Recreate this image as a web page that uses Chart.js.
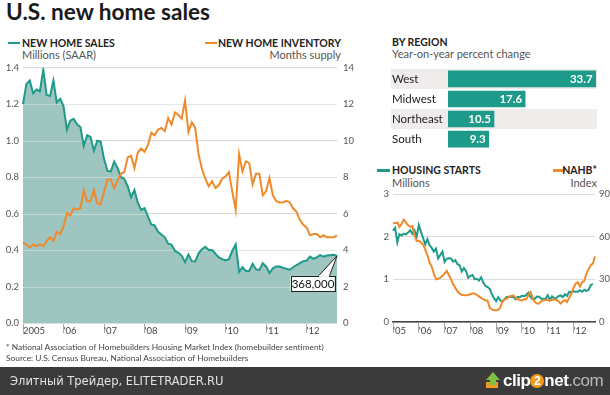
<!DOCTYPE html>
<html>
<head>
<meta charset="utf-8">
<script src="https://cdn.jsdelivr.net/npm/chart.js@4.4.1/dist/chart.umd.min.js"></script>
<style>
  body { margin: 0; width: 610px; height: 395px; position: relative; overflow: hidden; background: #fff; font-family: Lato, sans-serif; color: #222; }
  .t { position: absolute; white-space: nowrap; line-height: 1; }
  .title { left: 6px; top: 1px; font-size: 22.6px; font-weight: 700; color: #1a1a1a; }
  .head { font-size: 10.5px; font-weight: 700; color: #222; }
  .sub { font-size: 11px; color: #555; }
  .dash { position: absolute; height: 2.5px; }
  .note { font-size: 8.35px; color: #444; left: 6px; }
  canvas { position: absolute; }
  .footer { position: absolute; left: 0; top: 367px; width: 610px; height: 28px; background: #3b3b3b; }
  .footer .ft { position: absolute; left: 10px; top: 7px; font-family: "DejaVu Sans", sans-serif; font-size: 11.5px; color: #e2e2e2; white-space: nowrap; }
  .logo { position: absolute; left: 485px; top: 4px; font-family: "Liberation Sans", Arial, sans-serif; font-weight: 700; font-size: 17px; letter-spacing: -0.5px; white-space: nowrap; color: #fff; }
  .logo svg { vertical-align: -3px; margin-right: 2px; }
  .logo .two { display: inline-block; width: 14px; height: 14px; line-height: 14px; border-radius: 7px; background: #f39a1e; color: #fff; text-align: center; font-size: 12px; vertical-align: 1px; letter-spacing: 0; }
  .logo .com { color: #b9b9b9; font-weight: 400; }
</style>
</head>
<body>
<div class="t title">U.S. new home sales</div>

<div class="dash" style="left:8px;top:41.5px;width:12px;background:#1d9a89"></div>
<div class="t head" style="left:22px;top:38px">NEW HOME SALES</div>
<div class="t sub" style="left:22px;top:49px">Millions (SAAR)</div>
<div class="dash" style="left:205px;top:41.5px;width:12px;background:#ef8a2c"></div>
<div class="t head" style="right:269px;top:38px">NEW HOME INVENTORY</div>
<div class="t sub" style="right:269px;top:49px">Months supply</div>

<div class="t head" style="left:392px;top:37px">BY REGION</div>
<div class="t sub" style="left:392px;top:48px">Year-on-year percent change</div>

<div class="dash" style="left:377px;top:169px;width:13px;background:#1d9a89"></div>
<div class="t head" style="left:392px;top:165px">HOUSING STARTS</div>
<div class="t sub" style="left:392px;top:177px">Millions</div>
<div class="dash" style="left:553px;top:169px;width:12px;background:#ef8a2c"></div>
<div class="t head" style="right:13px;top:165px">NAHB*</div>
<div class="t sub" style="right:13px;top:177px">Index</div>

<canvas id="mainChart" width="360" height="290" style="left:0;top:56px"></canvas>
<canvas id="regionChart" width="212" height="94" style="left:388px;top:62px"></canvas>
<canvas id="startsChart" width="250" height="161" style="left:360px;top:180px"></canvas>

<div class="t note" style="top:343px">* National Association of Homebuilders Housing Market Index (homebuilder sentiment)</div>
<div class="t note" style="top:354px">Source: U.S. Census Bureau, National Association of Homebuilders</div>

<div class="footer">
  <div class="ft">Элитный Трейдер, ELITETRADER.RU</div>
  <div class="logo"><svg width="16" height="18" viewBox="0 0 16 18"><rect x="1" y="11" width="12" height="6" fill="#f39a1e"/><polygon points="8,1 15,9 11,9 11,14 5,14 5,9 1,9" fill="#7dc242"/></svg>clip<span class="two">2</span>net<span class="com">.com</span></div>
</div>

<script>
// months Jan 2005 .. Oct 2012 (main), .. Nov 2012 (starts/NAHB)
const years = [2005, 2006, 2007, 2008, 2009, 2010, 2011, 2012];
const monthNames = ['Jan', 'Feb', 'Mar', 'Apr', 'May', 'Jun', 'Jul', 'Aug', 'Sep', 'Oct', 'Nov', 'Dec'];
const mainYearTicks = ['2005', "'06", "'07", "'08", "'09", "'10", "'11", "'12"];
const smallYearTicks = ["'05", "'06", "'07", "'08", "'09", "'10", "'11", "'12"];

// new home sales, millions SAAR
const sales = [
  1.20, 1.31, 1.33, 1.26, 1.28, 1.27, 1.39, 1.25, 1.245, 1.33, 1.21, 1.23,
  1.19, 1.06, 1.11, 1.12, 1.09, 1.075, 0.97, 1.03, 1.02, 0.945, 1.00, 0.995,
  0.90, 0.835, 0.83, 0.885, 0.85, 0.80, 0.79, 0.75, 0.69, 0.73, 0.66, 0.62,
  0.63, 0.585, 0.54, 0.535, 0.50, 0.485, 0.47, 0.435, 0.43, 0.395, 0.385, 0.37,
  0.333, 0.375, 0.339, 0.337, 0.382, 0.405, 0.418, 0.40, 0.40, 0.38, 0.36, 0.35,
  0.343, 0.35, 0.396, 0.43, 0.28, 0.306, 0.285, 0.285, 0.324, 0.295, 0.29, 0.328,
  0.31, 0.274, 0.30, 0.31, 0.31, 0.303, 0.297, 0.292, 0.306, 0.318, 0.328, 0.339,
  0.342, 0.364, 0.352, 0.36, 0.372, 0.364, 0.37, 0.372, 0.374, 0.368
];

// new home inventory, months supply
const inventory = [
  4.4, 4.31, 4.13, 4.31, 4.22, 4.31, 4.22, 4.49, 4.70, 4.49, 4.99, 4.88,
  5.30, 6.02, 5.89, 6.29, 6.23, 6.29, 7.28, 6.68, 6.68, 7.28, 6.56, 6.50,
  7.19, 7.87, 7.87, 7.40, 7.82, 8.18, 8.27, 9.08, 9.17, 8.49, 9.35, 9.57,
  9.39, 9.75, 10.43, 10.29, 10.61, 10.70, 10.52, 11.24, 10.88, 11.55, 11.42, 11.2,
  12.2, 10.47, 11.0, 10.7, 9.26, 8.45, 7.91, 7.5, 7.78, 7.41, 7.55, 7.91,
  8.04, 8.27, 7.19, 6.2, 9.26, 8.31, 8.86, 8.77, 7.6, 8.18, 8.18, 7.0,
  7.23, 7.95, 7.0, 6.68, 6.61, 6.61, 6.70, 6.61, 6.29, 6.1, 5.66, 5.39,
  5.24, 4.81, 4.88, 4.88, 4.70, 4.81, 4.70, 4.70, 4.70, 4.81
];

// by region, year-on-year percent change
const regions = ['West', 'Midwest', 'Northeast', 'South'];
const regionChange = [33.7, 17.6, 10.5, 9.3];

// housing starts, millions (no Nov 2012 figure yet)
const housingStarts = [
  2.144, 2.207, 1.864, 2.061, 2.025, 2.068, 2.054, 2.095, 2.151, 2.065, 2.147, 1.994,
  2.273, 2.119, 1.969, 1.821, 1.942, 1.802, 1.737, 1.650, 1.720, 1.491, 1.570, 1.649,
  1.409, 1.480, 1.495, 1.490, 1.415, 1.448, 1.354, 1.330, 1.183, 1.264, 1.197, 1.037,
  1.084, 1.103, 1.005, 1.013, 0.973, 1.046, 0.923, 0.844, 0.820, 0.777, 0.652, 0.560,
  0.490, 0.582, 0.505, 0.478, 0.540, 0.585, 0.594, 0.586, 0.585, 0.534, 0.588, 0.581,
  0.614, 0.604, 0.636, 0.687, 0.583, 0.537, 0.546, 0.599, 0.594, 0.543, 0.545, 0.539,
  0.630, 0.517, 0.600, 0.554, 0.561, 0.608, 0.623, 0.585, 0.650, 0.610, 0.711, 0.694,
  0.720, 0.708, 0.707, 0.743, 0.708, 0.754, 0.728, 0.750, 0.863, 0.894, null
];

// NAHB housing market index
const nahb = [
  69.8, 69.5, 70, 66.8, 69, 72, 70, 68, 67, 67.5, 61, 57,
  57, 56, 54.5, 51, 47, 42, 39, 34, 30, 30.5, 31, 32.5,
  34, 36, 33, 30, 26.5, 24, 21.6, 20, 19.2, 18.8, 18.8, 19,
  19.5, 20, 20, 19, 18, 17, 16, 15.2, 15.2, 10, 8.9, 8.2,
  8.2, 8.5, 10.5, 15, 15.9, 16.5, 17.6, 18.4, 18.75, 17, 16, 15.5,
  15.2, 16, 16, 19, 21, 17, 14, 13, 13, 14.5, 15.2, 15.5,
  15.5, 15, 15.5, 16, 15.5, 14.5, 13, 14.5, 15.5, 14, 17, 20,
  24, 27, 28, 25, 28, 29, 34, 37, 40, 41, 46
];

const monthLabels = [];
years.forEach(y => monthNames.forEach(m => monthLabels.push(m + ' ' + y)));
const mainLabels = monthLabels.slice(0, sales.length);
const startsLabels = monthLabels.slice(0, nahb.length);

const TEAL = '#1d9a89';
const TEAL_FILL = '#9ec5c0';
const ORANGE = '#ef8a2c';
const GRID = '#dcdcdc';
const tickFont = { family: 'Lato', size: 9.5 };

const yearTick = (labels) => (val, idx) => (idx % 12 === 0 ? labels[idx / 12] : '');
const yearTickColor = (color) => (ctx) => (ctx.index % 12 === 0 ? color : 'rgba(0,0,0,0)');

// grid lines show faintly through the sales area (drawn after the fill, before the lines)
const gridOverFill = {
  id: 'gridOverFill',
  beforeDatasetDraw(chart, args) {
    if (args.index !== 1) return;
    const { ctx, chartArea } = chart;
    const y = chart.scales.y;
    ctx.save();
    ctx.strokeStyle = 'rgba(235,240,239,0.45)';
    ctx.lineWidth = 1;
    y.ticks.forEach(t => {
      if (t.value === 0) return;
      const py = Math.round(y.getPixelForValue(t.value)) + 0.5;
      ctx.beginPath();
      ctx.moveTo(chartArea.left, py);
      ctx.lineTo(chartArea.right, py);
      ctx.stroke();
    });
    ctx.restore();
  }
};

// callout box for the latest sales figure
const calloutPlugin = {
  id: 'callout',
  afterDatasetsDraw(chart) {
    const meta = chart.getDatasetMeta(1);
    const pt = meta.data[meta.data.length - 1];
    const ctx = chart.ctx;
    const text = Math.round(sales[sales.length - 1] * 1e6).toLocaleString('en-US');
    const w = 44, h = 15;
    const right = pt.x - 2.5, top = pt.y + 20;
    ctx.save();
    ctx.beginPath();
    ctx.moveTo(right - 16, top + 0.5);
    ctx.lineTo(pt.x, pt.y);
    ctx.lineTo(right - 5, top + 0.5);
    ctx.closePath();
    ctx.fillStyle = '#fff';
    ctx.fill();
    ctx.strokeStyle = '#222';
    ctx.lineWidth = 1;
    ctx.beginPath();
    ctx.moveTo(right - 16, top);
    ctx.lineTo(pt.x, pt.y);
    ctx.lineTo(right - 5, top);
    ctx.stroke();
    ctx.fillRect(right - w, top, w, h);
    ctx.strokeRect(Math.round(right - w) + 0.5, Math.round(top) + 0.5, w, h);
    ctx.fillStyle = '#fff';
    ctx.fillRect(right - 15.5, top - 0.5, 10, 1.5);
    ctx.fillStyle = '#111';
    ctx.font = '11.5px Lato';
    ctx.textAlign = 'center';
    ctx.textBaseline = 'middle';
    ctx.fillText(text, right - w / 2 + 0.5, top + h / 2 + 1);
    ctx.restore();
  }
};

new Chart(document.getElementById('mainChart'), {
  type: 'line',
  data: {
    labels: mainLabels,
    datasets: [
      { data: inventory, yAxisID: 'y2', borderColor: ORANGE, borderWidth: 2, pointRadius: 0, fill: false },
      { data: sales, yAxisID: 'y', borderColor: TEAL, backgroundColor: TEAL_FILL, borderWidth: 2, pointRadius: 0, fill: 'origin' }
    ]
  },
  options: {
    responsive: false,
    animation: false,
    layout: { padding: { top: 9 } },
    plugins: { legend: { display: false }, tooltip: { enabled: false } },
    scales: {
      x: {
        afterFit: s => { s.height = 23; },
        border: { display: false },
        grid: { drawOnChartArea: false, tickLength: 10, tickColor: yearTickColor('#aaa') },
        ticks: { autoSkip: false, maxRotation: 0, align: 'start', padding: -8, color: '#444', font: tickFont, callback: yearTick(mainYearTicks) }
      },
      y: {
        position: 'left', min: 0, max: 1.4,
        afterFit: s => { s.width = 23; },
        border: { display: false },
        grid: { color: GRID, drawTicks: false },
        ticks: { stepSize: 0.2, padding: 4, color: '#555', font: tickFont, callback: v => v.toFixed(1) }
      },
      y2: {
        position: 'right', min: 0, max: 14,
        afterFit: s => { s.width = 23; },
        border: { display: false },
        grid: { display: false, drawTicks: false },
        ticks: { stepSize: 2, padding: 6, color: '#555', font: tickFont }
      }
    }
  },
  plugins: [gridOverFill, calloutPlugin]
});

// alternating row stripes and value labels for the region bars
const regionPlugin = {
  id: 'regionRows',
  beforeDraw(chart) {
    const y = chart.scales.y;
    const half = (y.getPixelForTick(1) - y.getPixelForTick(0)) / 2;
    const ctx = chart.ctx;
    ctx.save();
    ctx.fillStyle = '#efeceb';
    regions.forEach((r, i) => {
      if (i % 2 === 0) {
        const c = y.getPixelForTick(i);
        ctx.fillRect(y.left - 1, c - half, chart.chartArea.right - y.left + 1, half * 2);
      }
    });
    ctx.restore();
  },
  afterDatasetsDraw(chart) {
    const ctx = chart.ctx;
    ctx.save();
    ctx.fillStyle = '#fff';
    ctx.font = 'bold 11.5px Lato';
    ctx.textAlign = 'right';
    ctx.textBaseline = 'middle';
    chart.getDatasetMeta(0).data.forEach((bar, i) => {
      ctx.fillText(regionChange[i].toFixed(1), bar.x - 3, bar.y + 0.5);
    });
    ctx.restore();
  }
};

new Chart(document.getElementById('regionChart'), {
  type: 'bar',
  data: {
    labels: regions,
    datasets: [{ data: regionChange, backgroundColor: TEAL, barThickness: 16 }]
  },
  options: {
    indexAxis: 'y',
    responsive: false,
    animation: false,
    layout: { padding: { top: 3, bottom: 3, right: 3, left: 4 } },
    plugins: { legend: { display: false }, tooltip: { enabled: false } },
    scales: {
      x: { display: false, min: 0, max: 34 },
      y: {
        afterFit: s => { s.width = 56; },
        border: { display: false },
        grid: { display: false },
        ticks: { crossAlign: 'far', padding: 0, color: '#222', font: { family: 'Lato', size: 11.5 } }
      }
    }
  },
  plugins: [regionPlugin]
});

new Chart(document.getElementById('startsChart'), {
  type: 'line',
  data: {
    labels: startsLabels,
    datasets: [
      { data: nahb, yAxisID: 'y2', borderColor: ORANGE, borderWidth: 2, pointRadius: 0 },
      { data: housingStarts, yAxisID: 'y', borderColor: TEAL, borderWidth: 2, pointRadius: 0 }
    ]
  },
  options: {
    responsive: false,
    animation: false,
    layout: { padding: { top: 14 } },
    plugins: { legend: { display: false }, tooltip: { enabled: false } },
    scales: {
      x: {
        afterFit: s => { s.height = 19; },
        border: { display: true, color: '#444', width: 1.5 },
        grid: { drawOnChartArea: false, tickLength: 11, tickColor: yearTickColor('#aaa') },
        ticks: { autoSkip: false, maxRotation: 0, align: 'start', padding: -8, color: '#444', font: tickFont, callback: yearTick(smallYearTicks) }
      },
      y: {
        position: 'left', min: 0, max: 3,
        afterFit: s => { s.width = 33; },
        border: { display: false },
        grid: { color: GRID, drawTicks: false },
        ticks: { stepSize: 1, padding: 4, color: '#555', font: tickFont }
      },
      y2: {
        position: 'right', min: 0, max: 90,
        afterFit: s => { s.width = 15; },
        border: { display: false },
        grid: { display: false, drawTicks: false },
        ticks: { stepSize: 30, padding: 4, color: '#555', font: tickFont }
      }
    }
  }
});
</script>
</body>
</html>
